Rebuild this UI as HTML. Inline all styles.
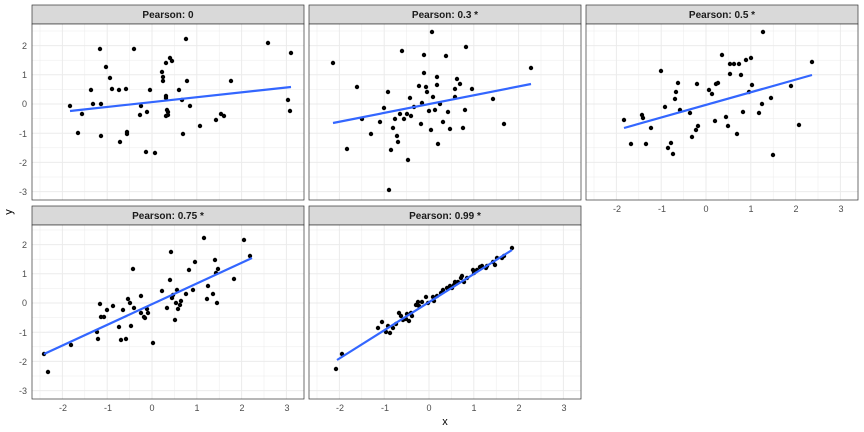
<!DOCTYPE html>
<html><head><meta charset="utf-8"><style>
html,body{margin:0;padding:0;background:#fff}
svg{display:block;font-family:"Liberation Sans",sans-serif}
</style></head><body>
<svg id="s" width="864" height="432" xmlns="http://www.w3.org/2000/svg">
<g id="g"></g>
<g font-size="9" fill="#4d4d4d" text-anchor="end">
<text x="27" y="49">2</text><text x="27" y="78">1</text><text x="27" y="107">0</text><text x="27" y="137">-1</text><text x="27" y="166">-2</text><text x="27" y="195">-3</text>
<text x="27" y="248">2</text><text x="27" y="277">1</text><text x="27" y="306">0</text><text x="27" y="336">-1</text><text x="27" y="365">-2</text><text x="27" y="394">-3</text>
</g>
<g font-size="9" fill="#4d4d4d" text-anchor="middle">
<text x="63" y="411">-2</text><text x="108" y="411">-1</text><text x="152" y="411">0</text><text x="197" y="411">1</text><text x="242" y="411">2</text><text x="287" y="411">3</text>
<text x="340" y="411">-2</text><text x="385" y="411">-1</text><text x="429" y="411">0</text><text x="474" y="411">1</text><text x="519" y="411">2</text><text x="564" y="411">3</text>
<text x="617" y="212">-2</text><text x="662" y="212">-1</text><text x="706" y="212">0</text><text x="751" y="212">1</text><text x="796" y="212">2</text><text x="841" y="212">3</text>
</g>
<g font-size="11" fill="#000" text-anchor="middle">
<text x="445" y="425">x</text>
<text x="12" y="212" transform="rotate(-90 12 212)">y</text>
</g>
<g font-size="10" font-weight="bold" fill="#1a1a1a" text-anchor="middle">
<text x="168" y="18">Pearson: 0</text>
<text x="445" y="18">Pearson: 0.3 *</text>
<text x="722" y="18">Pearson: 0.5 *</text>
<text x="168" y="219">Pearson: 0.75 *</text>
<text x="445" y="219">Pearson: 0.99 *</text>
</g>
</svg>
<script>
const g=document.getElementById('g');let h='';
const panels=[[32,304,5,24,200,152,104,true],[309,581,5,24,200,429,104,false],[586,858,5,24,200,706,104,false],[32,304,206,225,399,152,303,true],[309,581,206,225,399,429,303,false]];
const kx=44.8,ky=29.2;
for(const [x1,x2,s,t,b,cx,cy] of panels){
 h+=`<rect x="${x1}" y="${s}" width="${x2-x1}" height="${t-s}" fill="#d9d9d9" stroke="#333" stroke-width="0.7"/>`;
 h+=`<rect x="${x1}" y="${t}" width="${x2-x1}" height="${b-t}" fill="#fff"/>`;
 for(let v=-6;v<=8;v++){const X=cx+v*kx/2;if(X>x1&&X<x2)h+=`<line x1="${X}" x2="${X}" y1="${t}" y2="${b}" stroke="#ebebeb" stroke-width="${v%2?0.5:1}"/>`;
  const Y=cy-v*ky/2;if(Y>t&&Y<b)h+=`<line x1="${x1}" x2="${x2}" y1="${Y}" y2="${Y}" stroke="#ebebeb" stroke-width="${v%2?0.5:1}"/>`;}
 h+=`<rect x="${x1}" y="${t}" width="${x2-x1}" height="${b-t}" fill="none" stroke="#333" stroke-width="0.7"/>`;
}
const pts=[
[70,106,78,133,82,114,91,90,93,104,100,49,101,104,101,136,106,67,110,78,112,89,119,90,120,142,126,89,127,134,127,132,134,49,140,115,146,152,147,112,150,90,155,153,162,72,163,81,163,77,166,63,166,98,166,96,167,110,168,115,170,58,172,61,179,90,182,100,183,134,186,39,187,81,190,106,200,126,216,120,221,114,224,116,231,81,268,43,288,100,290,111,291,53,166,116,168,112,141,106],
[333,63,347,149,357,87,362,119,371,134,380,122,384,108,388,92,389,190,391,150,393,128,395,119,397,136,398,142,400,114,402,51,404,119,407,114,408,160,410,98,411,116,414,107,419,86,421,124,422,103,424,73,424,55,426,87,427,92,429,111,431,130,432,32,433,97,435,110,437,77,437,85,438,144,440,104,443,122,446,56,448,112,450,129,455,97,455,89,457,79,460,84,463,128,465,110,466,47,472,89,493,99,504,124,531,68],
[624,120,631,144,643,118,642,115,646,144,651,128,661,71,665,107,668,148,671,143,673,154,675,99,676,92,678,83,680,110,690,113,692,137,696,130,697,84,698,126,709,90,712,94,715,121,716,84,718,83,722,55,726,117,728,126,730,74,730,64,734,64,737,134,739,64,741,75,743,112,746,60,749,92,751,58,752,85,759,113,762,104,763,32,771,98,773,155,791,86,799,125,812,62],
[44,354,48,372,71,345,97,332,98,339,100,304,101,317,104,317,107,310,113,306,119,327,121,340,123,310,126,339,128,299,130,303,131,326,133,269,134,308,141,313,141,296,144,317,145,318,147,309,148,313,153,343,162,291,167,308,170,280,171,252,172,298,173,295,175,320,176,303,177,290,178,309,180,305,181,301,186,294,189,270,193,290,195,262,204,238,207,299,208,286,213,294,215,260,216,273,217,303,218,269,234,279,244,240,250,256],
[336,369,342,354,378,328,382,322,386,332,388,326,390,333,393,328,396,324,399,313,401,316,403,320,406,319,407,314,409,321,411,313,412,316,416,305,418,302,419,306,422,302,426,297,428,303,433,297,434,301,437,296,441,293,443,290,447,288,450,286,452,288,454,285,455,282,458,282,461,278,462,276,464,282,467,278,473,270,474,273,477,270,480,267,482,266,486,268,487,266,493,262,495,265,497,258,502,258,504,256,512,248]];
for(const p of pts)for(let i=0;i<p.length;i+=2)h+=`<circle cx="${p[i]}" cy="${p[i+1]}" r="2.2" fill="#000"/>`;
const ln=[[70,111,291,87],[333,123,531,84],[624,128,812,75],[44,354,252,258],[337,360,512,250]];
for(const l of ln)h+=`<line x1="${l[0]}" y1="${l[1]}" x2="${l[2]}" y2="${l[3]}" stroke="#3366ff" stroke-width="2.2"/>`;
// ticks
for(const [x1,x2,s,t,b,cx,cy,yl] of panels){}
g.innerHTML=h;
</script>
</body></html>
